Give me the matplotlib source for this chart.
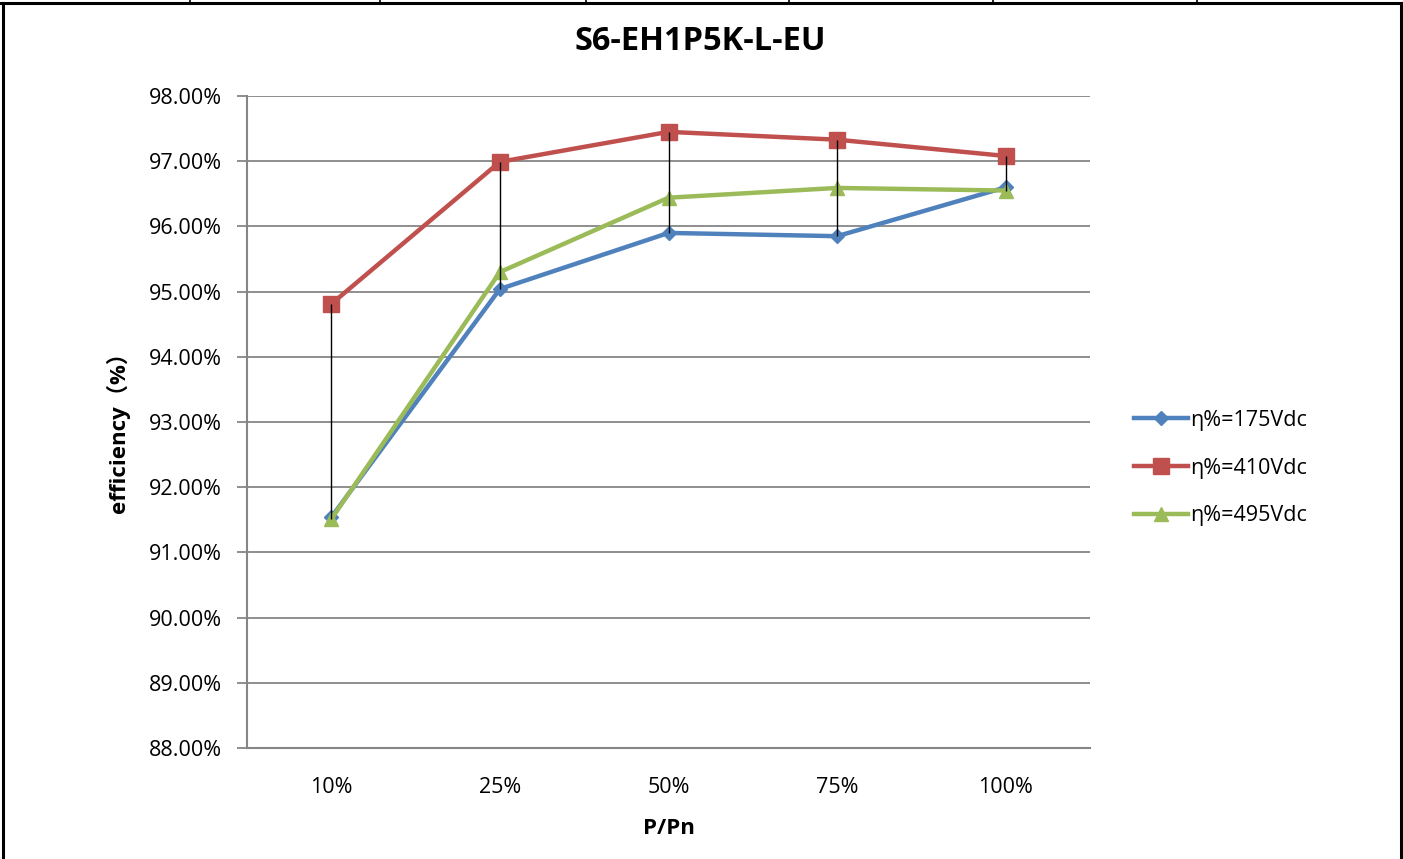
import matplotlib
matplotlib.use("Agg")
import matplotlib.pyplot as plt
from matplotlib.lines import Line2D
from matplotlib.ticker import FuncFormatter

plt.rcParams['font.family'] = ['Open Sans', 'Noto Sans CJK SC', 'DejaVu Sans']

# data
loads = ["10%", "25%", "50%", "75%", "100%"]
eta_175 = [91.54, 95.04, 95.90, 95.85, 96.60]
eta_410 = [94.81, 96.99, 97.45, 97.33, 97.08]
eta_495 = [91.51, 95.30, 96.44, 96.59, 96.55]
series_names = ["η%=175Vdc", "η%=410Vdc", "η%=495Vdc"]
y_ticks = [88, 89, 90, 91, 92, 93, 94, 95, 96, 97, 98]

W, H = 1403, 859
fig = plt.figure(figsize=(W / 100, H / 100), dpi=100)
ax = fig.add_axes([247 / W, 1 - 748 / H, (1090 - 247) / W, (748 - 96) / H])

x = list(range(len(loads)))
grey = "#868686"

ax.plot(x, eta_175, color="#4F81BD", lw=3.2, marker="D", ms=7,
        label=series_names[0], zorder=3)
ax.plot(x, eta_410, color="#C0504D", lw=3.2, marker="s", ms=11,
        label=series_names[1], zorder=3)
ax.plot(x, eta_495, color="#9BBB59", lw=3.2, marker="^", ms=10,
        label=series_names[2], zorder=3)

# high-low lines
hi = [max(v) for v in zip(eta_175, eta_410, eta_495)]
lo = [min(v) for v in zip(eta_175, eta_410, eta_495)]
ax.vlines(x, lo, hi, color="black", lw=1.0, zorder=4)

ax.set_xlim(-0.5, len(loads) - 0.5)
ax.set_ylim(88, 98)
ax.set_xticks(x)
ax.set_xticklabels(loads)
ax.set_yticks(y_ticks)
ax.yaxis.set_major_formatter(FuncFormatter(lambda v, p: "%.2f%%" % v))
ax.grid(axis="y", color=grey, lw=1.3)
ax.set_axisbelow(True)

for s in ["top", "right"]:
    ax.spines[s].set_visible(False)
for s in ["left", "bottom"]:
    ax.spines[s].set_color(grey)
    ax.spines[s].set_linewidth(1.5)
ax.tick_params(axis="y", length=7, width=1.3, color=grey, labelsize=15.5, pad=11)
ax.tick_params(axis="x", length=0, labelsize=15.5, pad=21)

ax.set_xlabel("P/Pn", fontsize=16, fontweight="bold", labelpad=14)
fig.text(118 / W, 1 - 427 / H, "efficiency（%）", rotation=90, ha="center",
         va="center", fontsize=16, fontweight="bold")
fig.text(700 / W, 1 - 41 / H, "S6-EH1P5K-L-EU", ha="center", va="center",
         fontsize=23.5, fontweight="bold")

fig.legend(loc="center left", bbox_to_anchor=(1123 / W, 1 - 468 / H),
           frameon=False, fontsize=15.5, handlelength=2.5, handletextpad=0.1,
           labelspacing=1.25, borderpad=0)

# page/table frame around the chart
def fline(x0, y0, x1, y1, lw):
    fig.add_artist(Line2D([x0 / W, x1 / W], [1 - y0 / H, 1 - y1 / H],
                          color="black", lw=lw, transform=fig.transFigure))

fline(0, 3, W, 3, 2.2)
fline(3, 3, 3, H, 2.2)
fline(1401, 3, 1401, H, 2.2)
for xd in [190, 380, 586, 789, 993, 1197]:
    fline(xd, 0, xd, 3, 1.2)

fig.savefig("out.png", dpi=100, facecolor="white")
